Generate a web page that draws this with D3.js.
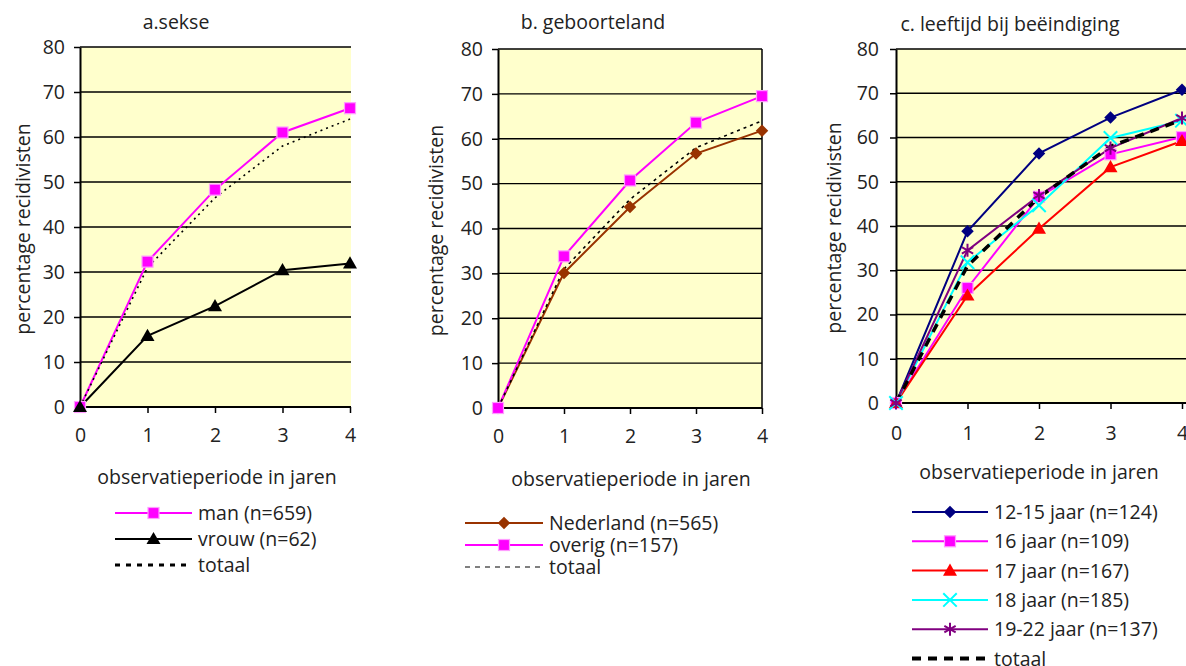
<!DOCTYPE html>
<html><head><meta charset="utf-8">
<script src="https://cdn.jsdelivr.net/npm/d3@7"></script>
<style>
html,body{margin:0;padding:0;background:#fff;overflow:hidden}
svg{display:block}
text{font-family:"Open Sans",sans-serif;fill:#222}
</style></head>
<body>
<svg id="c" width="1186" height="666"></svg>
<script>
// ---------- data ----------
const years = [0, 1, 2, 3, 4];
const yTicks = [0, 10, 20, 30, 40, 50, 60, 70, 80];
const totaal = [0, 31, 46.5, 58, 64];

// a. sekse
const titleA = "a.sekse";
const manVals = [0, 32.3, 48.3, 61, 66.4];
const vrouwVals = [0, 15.8, 22.4, 30.4, 31.9];
const labelsA = ["man (n=659)", "vrouw (n=62)", "totaal"];

// b. geboorteland
const titleB = "b. geboorteland";
const nederlandVals = [0, 30.1, 44.8, 56.7, 61.8];
const overigVals = [0, 33.8, 50.7, 63.6, 69.5];
const labelsB = ["Nederland (n=565)", "overig (n=157)", "totaal"];

// c. leeftijd bij beëindiging
const titleC = "c. leeftijd bij beëindiging";
const age1215 = [0, 38.8, 56.4, 64.5, 70.8];
const age16 = [0, 26, 46.6, 56.2, 60.1];
const age17 = [0, 24.3, 39.4, 53.3, 59.2];
const age18 = [0, 31.8, 44.7, 59.9, 63.8];
const age1922 = [0, 34.5, 46.9, 57.6, 64.4];
const labelsC = ["12-15 jaar (n=124)", "16 jaar (n=109)", "17 jaar (n=167)", "18 jaar (n=185)", "19-22 jaar (n=137)", "totaal"];

const yTitle = "percentage recidivisten";
const xTitle = "observatieperiode in jaren";

// ---------- drawing ----------
const FS = 19.5;
const svg = d3.select("#c");

const diamond = { draw(ctx, size) { const r = Math.sqrt(size) / 2 * 1.25; ctx.moveTo(0, -r); ctx.lineTo(r, 0); ctx.lineTo(0, r); ctx.lineTo(-r, 0); ctx.closePath(); } };

const styles = {
  man:   { color: "#FF00FF", w: 2, marker: "square" },
  vrouw: { color: "#000000", w: 2, marker: "triangle" },
  ned:   { color: "#993300", w: 2, marker: "diamond" },
  ovr:   { color: "#FF00FF", w: 2, marker: "square" },
  a1215: { color: "#000080", w: 2, marker: "diamond" },
  a16:   { color: "#FF00FF", w: 2, marker: "square" },
  a17:   { color: "#FF0000", w: 2, marker: "triangle" },
  a18:   { color: "#00FFFF", w: 2, marker: "x" },
  a1922: { color: "#800080", w: 2, marker: "asterisk" }
};

function drawMarker(g, type, color, x, y) {
  if (type === "square") {
    g.append("rect").attr("x", x - 5.5).attr("y", y - 5.5).attr("width", 11).attr("height", 11)
      .attr("fill", color).attr("stroke", "#FF9CFF").attr("stroke-width", 1.2);
  } else if (type === "triangle") {
    g.append("path").attr("transform", `translate(${x},${y + 1})`)
      .attr("d", d3.symbol(d3.symbolTriangle, 85)()).attr("fill", color);
  } else if (type === "diamond") {
    g.append("path").attr("transform", `translate(${x},${y})`)
      .attr("d", d3.symbol(diamond, 100)()).attr("fill", color);
  } else if (type === "x") {
    g.append("path").attr("transform", `translate(${x},${y})`)
      .attr("d", d3.symbol(d3.symbolX, 120)()).attr("fill", "none").attr("stroke", color).attr("stroke-width", 2);
  } else if (type === "asterisk") {
    g.append("path").attr("transform", `translate(${x},${y})`)
      .attr("d", d3.symbol(d3.symbolAsterisk, 120)()).attr("fill", "none").attr("stroke", color).attr("stroke-width", 2);
  }
}

function panel(cfg) {
  const x = d3.scaleLinear().domain([0, 4]).range([cfg.x0, cfg.x1]);
  const y = d3.scaleLinear().domain([0, 80]).range([cfg.yBot, cfg.yTop]);
  const g = svg.append("g");

  g.append("rect").attr("x", cfg.x0).attr("y", cfg.yTop).attr("width", cfg.pr - cfg.x0).attr("height", cfg.yBot - cfg.yTop)
    .attr("fill", "#FFFFCC");
  g.append("g").selectAll("line").data(yTicks.slice(1)).join("line")
    .attr("x1", cfg.x0).attr("x2", cfg.pr).attr("y1", d => y(d)).attr("y2", d => y(d))
    .attr("stroke", "#000").attr("stroke-width", 1.3);
  if (cfg.rightBorder) {
    g.append("line").attr("x1", cfg.pr).attr("x2", cfg.pr).attr("y1", cfg.yTop).attr("y2", cfg.yBot)
      .attr("stroke", "#000").attr("stroke-width", 1.5);
  }

  const ya = g.append("g").attr("transform", `translate(${cfg.x0},0)`)
    .call(d3.axisLeft(y).tickValues(yTicks).tickFormat(d3.format("d")).tickSize(6).tickSizeOuter(0).tickPadding(cfg.yPad));
  const xa = g.append("g").attr("transform", `translate(0,${cfg.yBot})`)
    .call(d3.axisBottom(x).tickValues(years).tickFormat(d3.format("d")).tickSize(6).tickSizeOuter(0).tickPadding(cfg.xPad));
  [ya, xa].forEach(a => {
    a.select(".domain").attr("stroke", "#000").attr("stroke-width", 2);
    a.selectAll(".tick line").attr("stroke", "#000").attr("stroke-width", 1.5);
    a.selectAll(".tick text").attr("font-size", FS).attr("font-family", "Open Sans").attr("fill", "#222");
  });
  xa.select(".domain").attr("d", `M${cfg.x0 - 1},0H${cfg.pr}`);

  const line = d3.line().x((d, i) => x(years[i])).y(d => y(d));

  cfg.series.forEach(s => {
    if (s.total) return;
    g.append("path").datum(s.vals).attr("d", line).attr("fill", "none")
      .attr("stroke", s.st.color).attr("stroke-width", s.st.w);
  });
  const tot = cfg.series.find(s => s.total);
  g.append("path").datum(tot.vals).attr("d", line).attr("fill", "none")
    .attr("stroke", "#000").attr("stroke-width", tot.w).attr("stroke-dasharray", tot.dash);
  cfg.series.forEach(s => {
    if (s.total) return;
    s.vals.forEach((v, i) => drawMarker(g, s.st.marker, s.st.color, x(years[i]), y(v)));
  });

  g.append("text").attr("x", cfg.tx).attr("y", cfg.ty).attr("text-anchor", "middle").attr("font-size", FS).text(cfg.title);
  g.append("text").attr("transform", `translate(${cfg.ylx},${(cfg.yTop + cfg.yBot) / 2 + 2}) rotate(-90)`)
    .attr("text-anchor", "middle").attr("font-size", FS).text(yTitle);
  g.append("text").attr("x", cfg.xtx).attr("y", cfg.xty).attr("text-anchor", "middle").attr("font-size", FS).text(xTitle);

  cfg.series.forEach((s, i) => {
    const ly = cfg.ly0 + i * cfg.lstep;
    if (s.total) {
      g.append("line").attr("x1", cfg.lx0).attr("x2", cfg.lx1).attr("y1", ly).attr("y2", ly)
        .attr("stroke", "#000").attr("stroke-width", s.lw).attr("stroke-dasharray", s.ldash);
    } else {
      g.append("line").attr("x1", cfg.lx0).attr("x2", cfg.lx1).attr("y1", ly).attr("y2", ly)
        .attr("stroke", s.st.color).attr("stroke-width", s.st.w);
      drawMarker(g, s.st.marker, s.st.color, (cfg.lx0 + cfg.lx1) / 2, ly);
    }
    g.append("text").attr("x", cfg.lx1 + 6).attr("y", ly + 7).attr("font-size", FS).text(s.label);
  });
}

panel({
  x0: 80, x1: 350, pr: 351, yTop: 47, yBot: 407, yPad: 9, xPad: 15,
  title: titleA, tx: 176, ty: 29, ylx: 30, xtx: 217, xty: 484,
  lx0: 115, lx1: 192, ly0: 513, lstep: 26,
  series: [
    { vals: manVals, st: styles.man, label: labelsA[0] },
    { vals: vrouwVals, st: styles.vrouw, label: labelsA[1] },
    { vals: totaal, total: true, w: 1.6, dash: "2,4", lw: 3, ldash: "5,6", label: labelsA[2] }
  ]
});

panel({
  x0: 498, x1: 762, pr: 762, rightBorder: true, yTop: 49, yBot: 408, yPad: 9, xPad: 15,
  title: titleB, tx: 593, ty: 29, ylx: 443, xtx: 631, xty: 486,
  lx0: 465, lx1: 543, ly0: 523, lstep: 22,
  series: [
    { vals: nederlandVals, st: styles.ned, label: labelsB[0] },
    { vals: overigVals, st: styles.ovr, label: labelsB[1] },
    { vals: totaal, total: true, w: 1.6, dash: "3,4", lw: 1, ldash: "5,5", label: labelsB[2] }
  ]
});

panel({
  x0: 896, x1: 1182, pr: 1186, yTop: 49, yBot: 403, yPad: 11, xPad: 17,
  title: titleC, tx: 1010, ty: 31, ylx: 841, xtx: 1039, xty: 479,
  lx0: 912, lx1: 988, ly0: 512, lstep: 29.3,
  series: [
    { vals: age1215, st: styles.a1215, label: labelsC[0] },
    { vals: age16, st: styles.a16, label: labelsC[1] },
    { vals: age17, st: styles.a17, label: labelsC[2] },
    { vals: age18, st: styles.a18, label: labelsC[3] },
    { vals: age1922, st: styles.a1922, label: labelsC[4] },
    { vals: totaal, total: true, w: 3.5, dash: "9,7", lw: 4, ldash: "9,7", label: labelsC[5] }
  ]
});
</script>
</body></html>
